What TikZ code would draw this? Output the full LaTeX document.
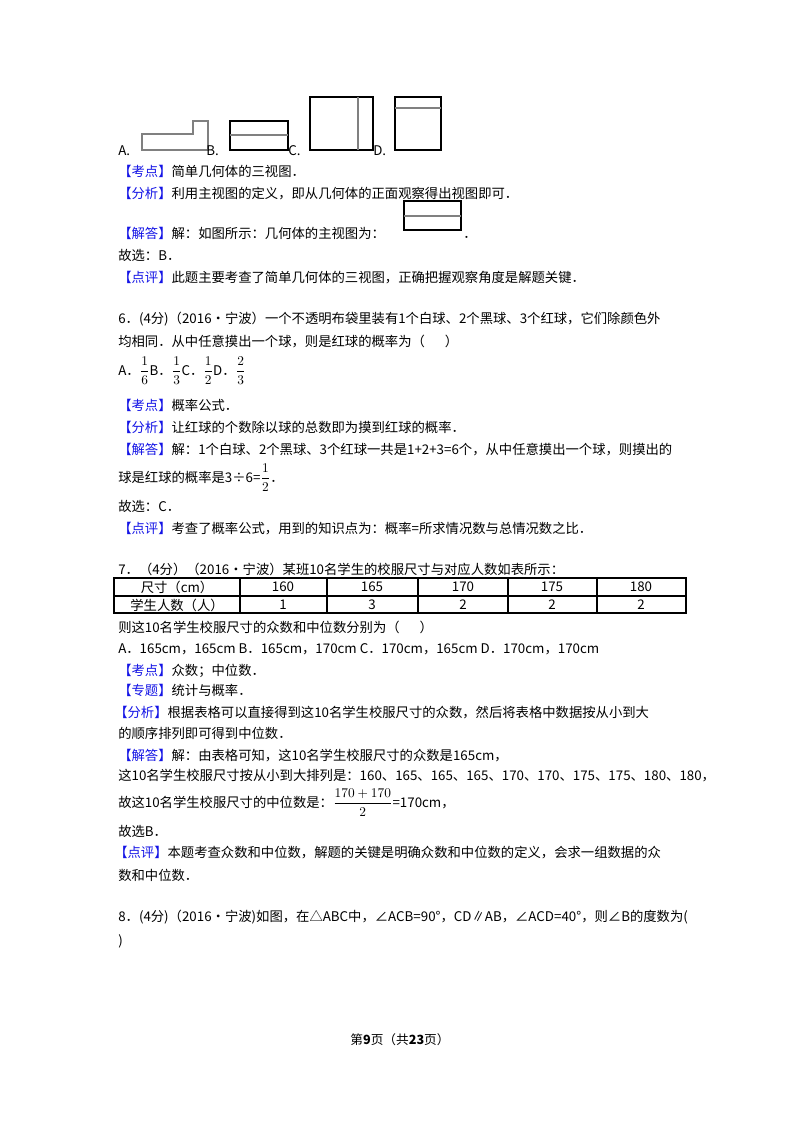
\documentclass[tikz,border=0pt]{standalone}
\usepackage{fontspec}
\setmainfont{Noto Sans CJK SC}
\usepackage{amsmath}
\definecolor{kb}{RGB}{20,20,230}
\begin{document}
\begin{tikzpicture}[x=0.75pt,y=-0.75pt,
  t/.style={anchor=base west,inner sep=0,font=\fontsize{10}{12}\selectfont},
  fig/.style={draw=black,line width=1pt},
  tab/.style={draw=black,line width=0.8pt}]
\useasboundingbox[fill=white] (0,0) rectangle (800,1132);
\newcommand{\kb}[1]{\textcolor{kb}{【#1】}}
% figures row
\node[t] (la) at (118,155) {A.};
\draw[fig,draw=gray] (142,150) -- (142,134) -- (193,134) -- (193,121) -- (208,121) -- (208,150) -- cycle;
\node[t] (lb) at (206,155) {B.};
\draw[fig] (230,121) rectangle (288,150); \draw[fig,draw=gray] (230,135) -- (288,135);
\node[t] (lc) at (288,155) {C.};
\draw[fig] (310,97) rectangle (373,150); \draw[fig,draw=gray] (358,97) -- (358,150);
\node[t] (ld) at (373,155) {D.};
\draw[fig] (395,97) rectangle (441,150); \draw[fig,draw=gray] (395,108) -- (441,108);
\node[t] (l1) at (118,176) {\kb{考点}简单几何体的三视图．};
\node[t] (l2) at (118,198) {\kb{分析}利用主视图的定义，即从几何体的正面观察得出视图即可．};
\node[t] (l3) at (118,238) {\kb{解答}解：如图所示：几何体的主视图为：};
\draw[fig] (404,201) rectangle (461,230); \draw[fig,draw=gray] (404,216) -- (461,216);
\node[t] (l3b) at (463,238) {．};
\node[t] (l4) at (118,260) {故选：B．};
\node[t] (l5) at (118,282) {\kb{点评}此题主要考查了简单几何体的三视图，正确把握观察角度是解题关键．};
% Q6
\node[t] (q6) at (118,323) {6．(4分)（2016•宁波）一个不透明布袋里装有1个白球、2个黑球、3个红球，它们除颜色外};
\node[t] (q6b) at (118,346) {均相同．从中任意摸出一个球，则是红球的概率为（\quad\enspace）};
\node[t] (q6c) at (118,375) {A．$\dfrac16$B．$\dfrac13$C．$\dfrac12$D．$\dfrac23$};
\node[t] (m1) at (118,410) {\kb{考点}概率公式．};
\node[t] (m2) at (118,432) {\kb{分析}让红球的个数除以球的总数即为摸到红球的概率．};
\node[t] (m3) at (118,454) {\kb{解答}解：1个白球、2个黑球、3个红球一共是1+2+3=6个，从中任意摸出一个球，则摸出的};
\node[t] (m4) at (118,482) {球是红球的概率是3÷6=$\dfrac12$．};
\node[t] (m5) at (118,511) {故选：C．};
\node[t] (m6) at (118,533) {\kb{点评}考查了概率公式，用到的知识点为：概率=所求情况数与总情况数之比．};
% Q7
\node[t] (q7) at (118,574) {7．（4分）（2016•宁波）某班10名学生的校服尺寸与对应人数如表所示：};
\draw[tab] (114,578) rectangle (686,613);
\draw[tab] (114,596) -- (686,596);
\foreach \x in {240,327,418,508,597} \draw[tab] (\x,578) -- (\x,613);
\foreach \cx/\a/\b in {177/尺寸（cm）/学生人数（人）,283/160/1,372/165/3,463/170/2,552/175/2,641/180/2}{
  \node[font=\fontsize{10}{12}\selectfont,inner sep=0] at (\cx,587) {\a};
  \node[font=\fontsize{10}{12}\selectfont,inner sep=0] at (\cx,605) {\b};}
\node[t] (r1) at (118,632) {则这10名学生校服尺寸的众数和中位数分别为（\quad\enspace）};
\node[t] (r2) at (118,653) {A．165cm，165cm B．165cm，170cm C．170cm，165cm D．170cm，170cm};
\node[t] (r3) at (118,675) {\kb{考点}众数；中位数．};
\node[t] (r4) at (118,695) {\kb{专题}统计与概率．};
\node[t] (r5) at (114,717) {\kb{分析}根据表格可以直接得到这10名学生校服尺寸的众数，然后将表格中数据按从小到大};
\node[t] (r6) at (118,738) {的顺序排列即可得到中位数．};
\node[t] (r7) at (118,760) {\kb{解答}解：由表格可知，这10名学生校服尺寸的众数是165cm，};
\node[t] (r8) at (118,780) {这10名学生校服尺寸按从小到大排列是：160、165、165、165、170、170、175、175、180、180，};
\node[t] (r9) at (118,807) {故这10名学生校服尺寸的中位数是：$\dfrac{170+170}{2}$=170cm，};
\node[t] (r10) at (118,836) {故选B．};
\node[t] (r11) at (114,857) {\kb{点评}本题考查众数和中位数，解题的关键是明确众数和中位数的定义，会求一组数据的众};
\node[t] (r12) at (118,880) {数和中位数．};
% Q8
\node[t] (q8) at (118,921) {8．(4分)（2016•宁波)如图，在△ABC中，∠ACB=90°，CD∥AB，∠ACD=40°，则∠B的度数为(};
\node[t] (q8b) at (118,945) {)};
\node[font=\fontsize{9.5}{12}\selectfont,inner sep=0] (ft) at (400,1040) {第\textbf{9}页（共\textbf{23}页）};
\end{tikzpicture}
\end{document}
